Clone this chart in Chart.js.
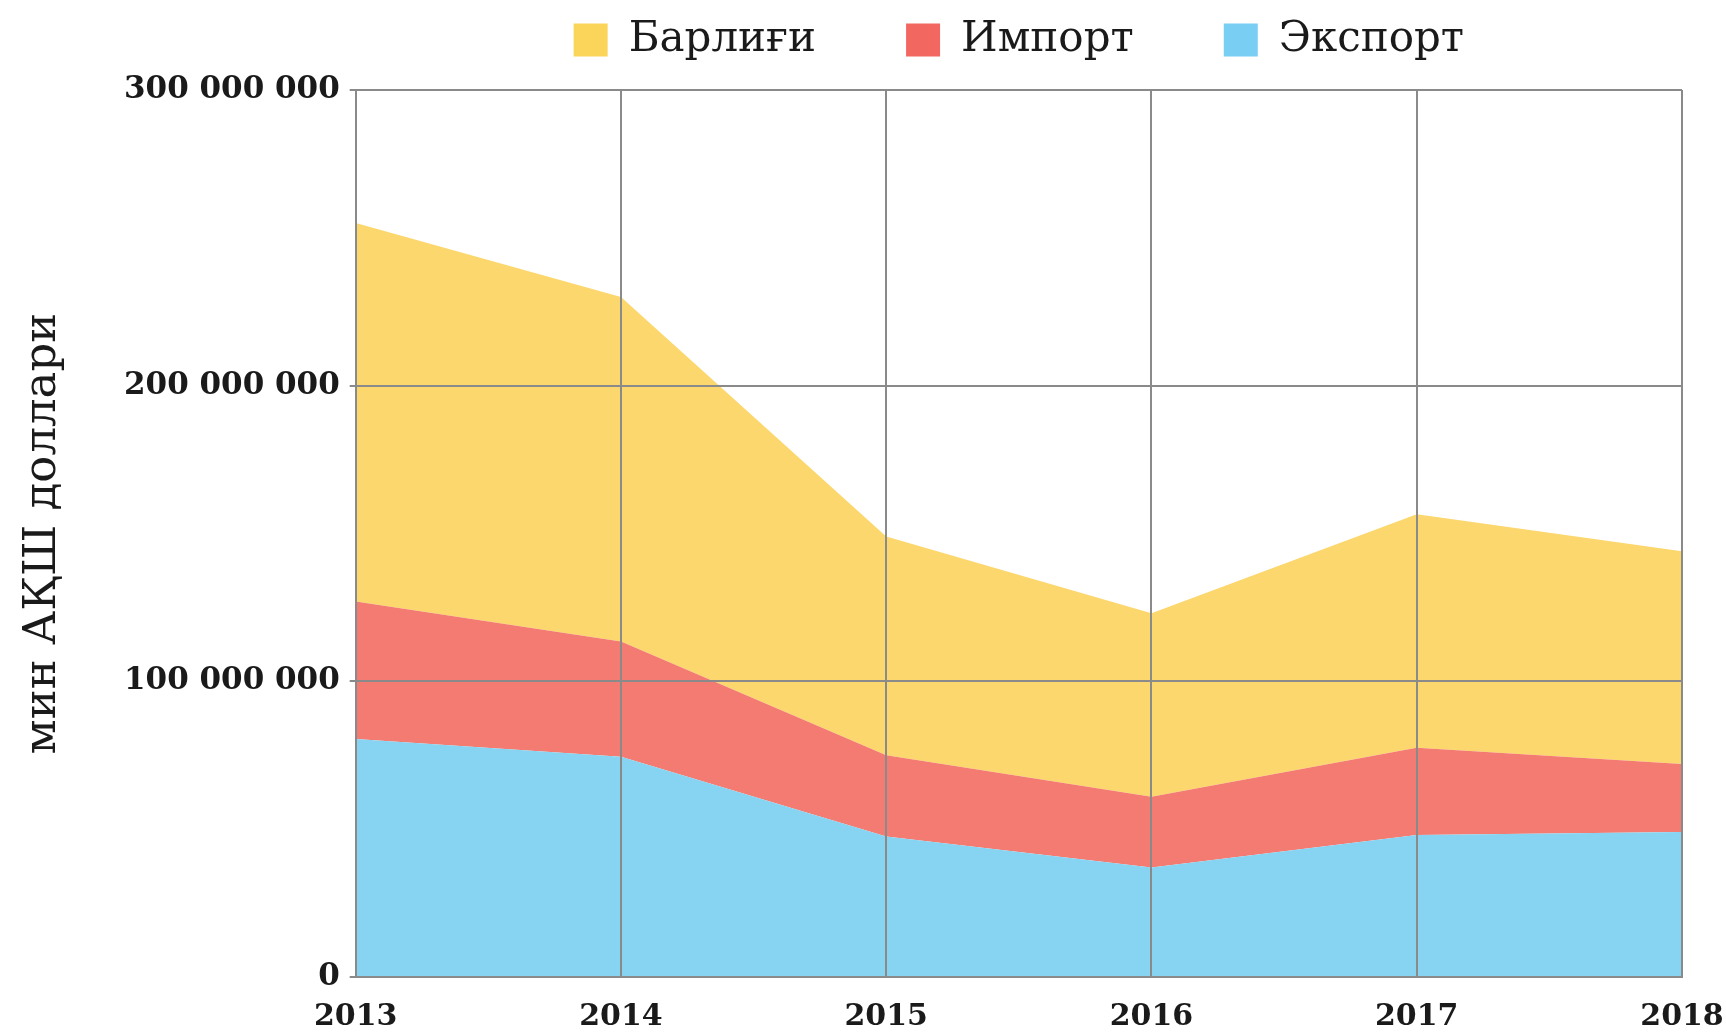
<!DOCTYPE html>
<html>
<head>
<meta charset="utf-8">
<title>Ташқи савдо</title>
<script src="https://cdn.jsdelivr.net/npm/chart.js@4.4.1/dist/chart.umd.min.js"></script>
<style>
  html, body { margin: 0; padding: 0; background: #fff; }
  #wrap { width: 1726px; height: 1033px; }
</style>
</head>
<body>
<div id="wrap"><canvas id="tradechart" width="1726" height="1033"></canvas></div>
<script>
// years on the x axis
const years = ["2013", "2014", "2015", "2016", "2017", "2018"];

// stacked layers, thousand US dollars (bottom to top)
const exportVals = [80500000, 74500000, 47500000, 37000000, 48000000, 49000000];
const importVals = [46500000, 39000000, 27500000, 24000000, 29500000, 23000000];
const totalVals  = [128000000, 116500000, 74000000, 62000000, 79000000, 72000000];

const yTicks = [0, 100000000, 200000000, 300000000];

const serif = "'DejaVu Serif', 'Liberation Serif', serif";
const legendPad = 90;

function spaced(v) {
    return String(v).replace(/\B(?=(\d{3})+(?!\d))/g, ' ');
}

// keep the wide legend spacing but pull the legend up close to the top edge
const legendNudge = {
    id: 'legendNudge',
    beforeLayout(chart) {
        const lg = chart.legend;
        if (lg && !lg._nudged) {
            const fit = lg.fit;
            lg.fit = function () {
                fit.call(this);
                this.height = 90;
            };
            lg._nudged = true;
        }
    },
    afterLayout(chart) {
        const lg = chart.legend;
        lg.top = 24 - legendPad - 5;
        lg.height = lg.bottom - lg.top;
    }
};

const ctx = document.getElementById("tradechart");

const myChart = new Chart(ctx, {
    type: 'line',
    data: {
        labels: years,
        datasets: [{
            label: 'Экспорт',
            data: exportVals,
            fill: 'origin',
            backgroundColor: 'rgb(134, 211, 242)',
            borderWidth: 0,
            pointRadius: 0,
            tension: 0
        }, {
            label: 'Импорт',
            data: importVals,
            fill: '-1',
            backgroundColor: 'rgb(243, 123, 113)',
            borderWidth: 0,
            pointRadius: 0,
            tension: 0
        }, {
            label: 'Барлиғи',
            data: totalVals,
            fill: '-1',
            backgroundColor: 'rgb(252, 215, 110)',
            borderWidth: 0,
            pointRadius: 0,
            tension: 0
        }]
    },
    plugins: [legendNudge],
    options: {
        responsive: false,
        animation: false,
        layout: {
            padding: { left: 16, right: 0, top: 0, bottom: -24 }
        },
        plugins: {
            tooltip: { enabled: false },
            legend: {
                position: 'top',
                fullSize: false,
                reverse: true,
                labels: {
                    boxWidth: 34,
                    boxHeight: 33,
                    padding: legendPad,
                    color: '#1a1a1a',
                    font: { family: serif, size: 42 },
                    generateLabels(chart) {
                        const items = Chart.defaults.plugins.legend.labels.generateLabels(chart);
                        const boxColors = ['rgb(120, 206, 243)', 'rgb(242, 104, 96)', 'rgb(251, 212, 90)'];
                        items.forEach(it => {
                            it.fillStyle = boxColors[it.datasetIndex];
                            it.strokeStyle = 'rgba(0,0,0,0)';
                            it.lineWidth = 0;
                        });
                        return items;
                    }
                }
            }
        },
        scales: {
            x: {
                offset: false,
                afterFit(scale) {
                    // only half of the last year label hangs past the plot
                    scale.paddingRight = 44;
                },
                grid: {
                    z: 1,
                    color: '#8a8a8a',
                    lineWidth: 2,
                    drawTicks: false
                },
                border: { z: 1, color: '#8a8a8a', width: 2 },
                ticks: {
                    color: '#1a1a1a',
                    padding: 22,
                    maxRotation: 0,
                    font: { family: serif, size: 30, weight: 'bold' }
                }
            },
            y: {
                stacked: true,
                min: 0,
                max: 300000000,
                afterBuildTicks(axis) {
                    axis.ticks = yTicks.map(v => ({ value: v }));
                },
                grid: {
                    z: 1,
                    color: '#8a8a8a',
                    lineWidth: 2,
                    tickLength: 6
                },
                border: { z: 1, color: '#8a8a8a', width: 2 },
                ticks: {
                    color: '#1a1a1a',
                    padding: 10,
                    font: { family: serif, size: 31, weight: 'bold' },
                    callback: v => spaced(v)
                },
                title: {
                    display: true,
                    text: 'мин АҚШ доллари',
                    color: '#1a1a1a',
                    padding: { top: 0, bottom: 44 },
                    font: { family: serif, size: 45 }
                }
            }
        }
    }
});
</script>
</body>
</html>
